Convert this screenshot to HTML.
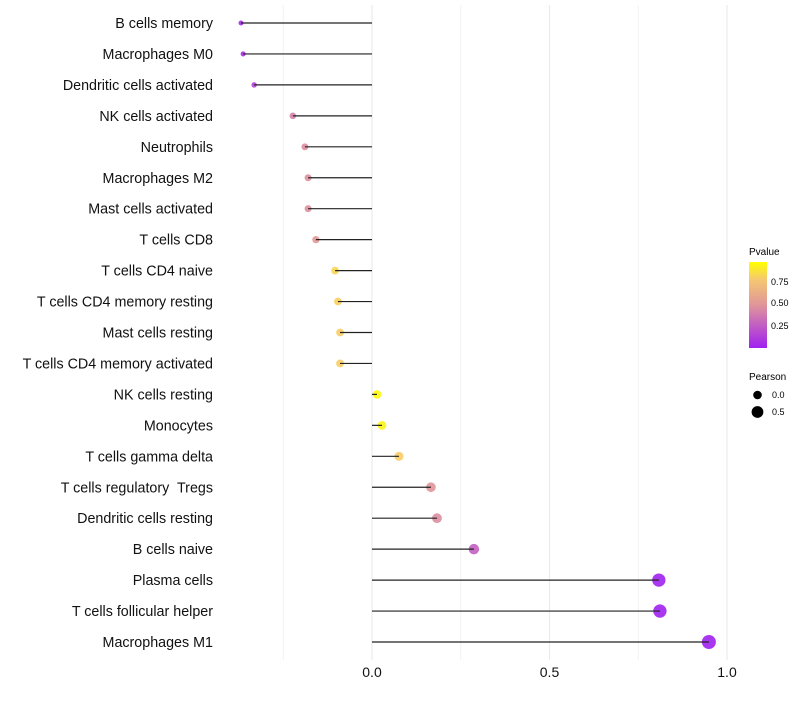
<!DOCTYPE html>
<html><head><meta charset="utf-8"><style>
body{margin:0;background:#fff;font-family:"Liberation Sans",sans-serif}
text{white-space:pre}
</style></head><body>
<svg id="chart" width="800" height="700" xmlns="http://www.w3.org/2000/svg">
<defs><linearGradient id="pg" x1="0" y1="1" x2="0" y2="0">
<stop offset="0" stop-color="#A020F0"/><stop offset="0.5" stop-color="#E0959A"/><stop offset="0.8" stop-color="#F6C870"/><stop offset="1" stop-color="#FFFF00"/></linearGradient></defs>
<g id="grid"></g><g id="marks"></g><g id="labels"></g>
<g font-size="9">
<text x="749" y="255" font-size="10">Pvalue</text>
<rect x="749" y="262" width="18" height="86" fill="url(#pg)"/>
<text x="771" y="285">0.75</text><text x="771" y="306">0.50</text><text x="771" y="329">0.25</text>
</g>
<g font-size="9">
<text x="749" y="380" font-size="10">Pearson</text>
<circle cx="757.5" cy="395" r="4.3" fill="#000"/><text x="772" y="398">0.0</text>
<circle cx="757.5" cy="412" r="5.9" fill="#000"/><text x="772" y="415">0.5</text>
</g>
</svg>
<script>
const cells=["B cells memory","Macrophages M0","Dendritic cells activated","NK cells activated","Neutrophils","Macrophages M2","Mast cells activated","T cells CD8","T cells CD4 naive","T cells CD4 memory resting","Mast cells resting","T cells CD4 memory activated","NK cells resting","Monocytes","T cells gamma delta","T cells regulatory  Tregs","Dendritic cells resting","B cells naive","Plasma cells","T cells follicular helper","Macrophages M1"];
const pearson=[-0.369,-0.363,-0.332,-0.223,-0.189,-0.18,-0.18,-0.158,-0.104,-0.096,-0.09,-0.09,0.014,0.028,0.076,0.166,0.183,0.287,0.808,0.811,0.949];
const pvalue=[0.05,0.07,0.15,0.42,0.47,0.48,0.48,0.52,0.85,0.83,0.82,0.82,0.98,0.96,0.82,0.5,0.47,0.27,0.01,0.01,0.001];
const xTicks=[0,0.5,1.0];
const xTickLabels=["0.0","0.5","1.0"];
const ns="http://www.w3.org/2000/svg";
const X=v=>372+v*355;
const Y=i=>23+i*30.95;
function mk(t,a,p){const e=document.createElementNS(ns,t);for(const k in a)e.setAttribute(k,a[k]);p.appendChild(e);return e;}
function lerp(a,b,t){return a.map((v,i)=>Math.round(v+(b[i]-v)*t));}
function col(p){const s=[[0,[160,32,240]],[0.5,[224,149,154]],[0.8,[246,200,112]],[1,[255,255,0]]];
for(let i=1;i<s.length;i++){if(p<=s[i][0]){const t=(p-s[i-1][0])/(s[i][0]-s[i-1][0]);return "rgb("+lerp(s[i-1][1],s[i][1],t).join(",")+")";}}return "rgb(255,255,0)";}
const grid=document.getElementById('grid'),marks=document.getElementById('marks'),labels=document.getElementById('labels');
[-0.25,0.25,0.75].forEach(v=>{const l=mk('line',{x1:X(v),x2:X(v),y1:5,y2:660,stroke:'#f2f2f2','stroke-width':1},grid);

});
xTicks.forEach((v,i)=>{const l=mk('line',{x1:X(v),x2:X(v),y1:5,y2:660,stroke:'#ebebeb','stroke-width':1.2},grid);


const t=mk('text',{x:X(v),y:677,'text-anchor':'middle','font-size':14,fill:'#111'},labels);t.textContent=xTickLabels[i];

});
cells.forEach((c,i)=>{const y=Y(i),v=pearson[i];
const r=Math.sqrt(Math.max(4,18.2+32.4*v));
const ci=mk('circle',{cx:X(v),cy:y,r:r,fill:col(pvalue[i]),'fill-opacity':0.9},marks);


const l=mk('line',{x1:X(0),x2:X(v),y1:y,y2:y,stroke:'#222','stroke-width':1.2},marks);


const t=mk('text',{x:213,y:y+5,'text-anchor':'end','font-size':14.3,fill:'#111'},labels);t.textContent=c;

});
</script>
</body></html>
